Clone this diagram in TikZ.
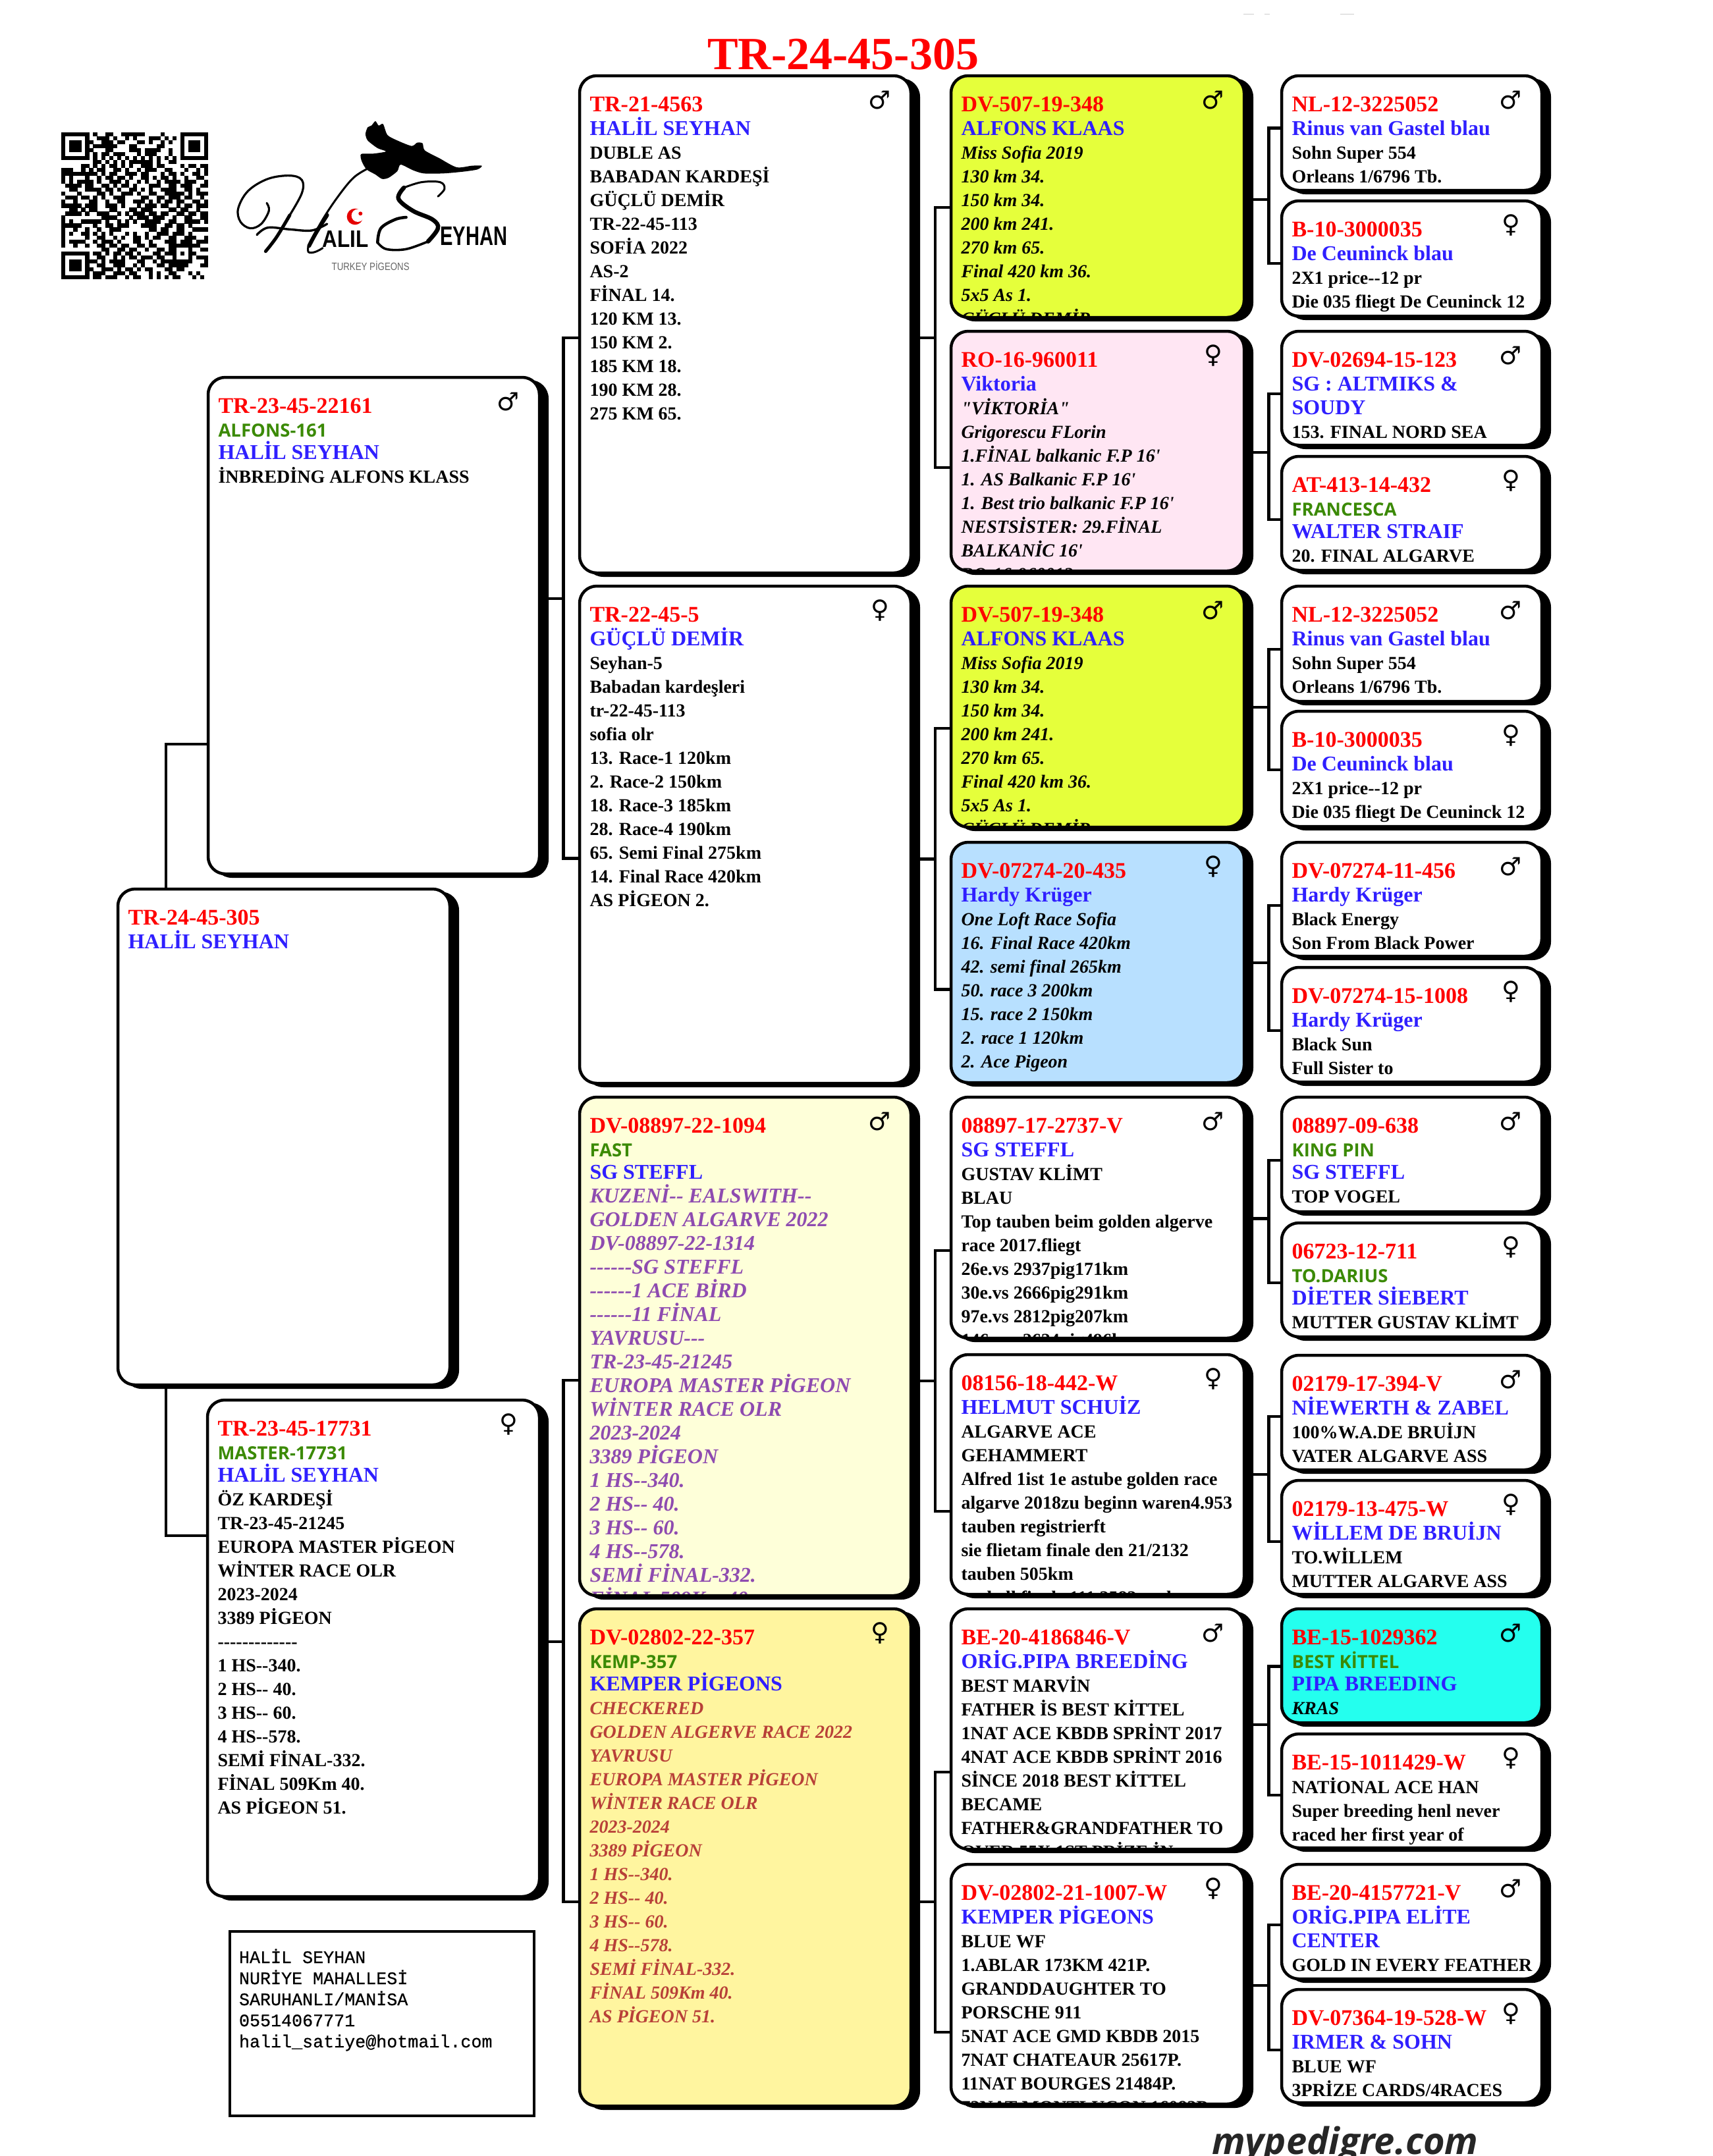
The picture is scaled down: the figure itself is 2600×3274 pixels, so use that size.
\documentclass[tikz,border=0pt]{standalone}
\usepackage{fontspec}
\usepackage{graphicx}
\newfontfamily\ser{Liberation Serif}
\newfontfamily\mon{Liberation Mono}[FakeBold=0.6]
\newfontfamily\djv{DejaVu Sans}
\newfontfamily\opn{Open Sans}
\newfontfamily\lsn{Liberation Sans}
\definecolor{tred}{HTML}{FF0000}
\definecolor{tblue}{HTML}{2F1FFF}
\definecolor{tgreen}{HTML}{3B8A05}
\definecolor{tpur}{HTML}{8E4BB0}
\definecolor{tbrn}{HTML}{B84038}
\definecolor{fyel}{HTML}{E5FF3B}
\definecolor{fpink}{HTML}{FFE6F3}
\definecolor{fblue}{HTML}{B8E0FF}
\definecolor{fcream}{HTML}{FEFFD9}
\definecolor{fgold}{HTML}{FFF59F}
\definecolor{fcyan}{HTML}{24FFEE}
\newcommand\Ln[2]{\hbox{\vrule height#1pt width0pt\smash{#2}}}
\newcommand\LT[1]{\Ln{36}{\color{tred}\ser\bfseries\fontsize{34pt}{36pt}\selectfont #1}}
\newcommand\LG[1]{\Ln{36}{\color{tgreen}\opn\bfseries\fontsize{27.5pt}{36pt}\selectfont #1}}
\newcommand\LB[1]{\Ln{36}{\color{tblue}\ser\bfseries\fontsize{32pt}{36pt}\selectfont #1}}
\newcommand\LBg[1]{\Ln{34}{\color{tblue}\ser\bfseries\fontsize{32pt}{36pt}\selectfont #1}}
\newcommand\LN[1]{\Ln{36}{\color{black}\ser\bfseries\fontsize{28pt}{36pt}\selectfont #1}}
\newcommand\LI[1]{\Ln{36}{\color{black}\ser\bfseries\itshape\fontsize{28pt}{36pt}\selectfont #1}}
\newcommand\LP[1]{\Ln{36}{\color{tpur}\ser\bfseries\itshape\fontsize{32pt}{36pt}\selectfont #1}}
\newcommand\LR[1]{\Ln{36}{\color{tbrn}\ser\bfseries\itshape\fontsize{28pt}{36pt}\selectfont #1}}
\newcommand\Ma{\char"2642\relax}
\newcommand\Fe{\char"2640\relax}
\tikzset{
  boxd/.style={draw=black,line width=4.5pt,rounded corners=26pt,inner sep=0pt,outer sep=0pt},
  txt/.style={anchor=base west,inner sep=0pt,outer sep=0pt},
  symb/.style={inner sep=0pt,font=\djv\fontsize{38pt}{38pt}\selectfont},
  conn/.style={draw=black,line width=4.5pt},
  logotext/.style={inner sep=0pt,font=\lsn},
}
\newcommand\pbox[8]{%
  \fill[black,rounded corners=28pt] ({#2+8},{#3+4}) rectangle ({#4+14},{#5+6});
  \fill[#6,rounded corners=26pt] (#2,#3) rectangle (#4,#5);
  \begin{scope}
    \clip[rounded corners=26pt] (#2,#3) rectangle (#4,#5);
    \node[txt] (#1t) at ({#2+15.5},{#3+54.5}) {\vtop{\offinterlineskip #8}};
  \end{scope}
  \node[boxd,minimum width={(#4-#2)*1pt},minimum height={(#5-#3)*1pt}] (#1) at ({(#2+#4)/2},{(#3+#5)/2}) {};
  \node[symb] (#1s) at ({#4-47},{#3+37}) {#7};
}
\newcommand\brk[7]{%
  \coordinate (#1ja) at (#4,#5);
  \coordinate (#1jb) at (#4,#6);
  \coordinate (#1jc) at (#4,#7);
  \draw[conn] (#2.west |- #1ja) -- (#1ja) -- (#1jb) -- (#3.west |- #1jb);
  \draw[conn] (#1.east |- #1jc) -- (#1jc);
}
\newcount\qrc \newcount\qrr
\def\qrscan#1{\ifx#1.\else\if1#1\fill ({93.3+\the\qrc*6.02},{201+\the\qrr*6.02}) rectangle ++(6.15,6.15);\fi\advance\qrc by 1 \expandafter\qrscan\fi}
\def\qrrow#1{\qrc=0 \qrscan#1.\advance\qrr by 1 }
\begin{document}
\begin{tikzpicture}[x=1pt,y=-1pt]
\useasboundingbox (0,0) rectangle (2600,3274);
\fill[white] (0,0) rectangle (2600,3274);
% faint marks
\draw[gray!40,line width=1pt] (1888,21) -- (1904,21) (1920,21) -- (1928,21) (2035,21) -- (2056,21);
% title
\node[txt] (title) at (1074,105) {\ser\bfseries\fontsize{70pt}{70pt}\selectfont\color{tred}TR-24-45-305};
% QR
\qrrow{1111111010011001111110000100001111111}
\qrrow{1000001001110100101000111010101000001}
\qrrow{1011101100111011000110100101001011101}
\qrrow{1011101011111100011000001100001011101}
\qrrow{1011101100011000011101111001001011101}
\qrrow{1000001010110111000101110001001000001}
\qrrow{1111111010101010101010101010101111111}
\qrrow{0000000011010101011111101001100000000}
\qrrow{0000011010101101010011101100001011011}
\qrrow{1110010101100110100101110011000100101}
\qrrow{1111111110101100111011000101101001101}
\qrrow{1010001001011011010011010110100100110}
\qrrow{1010111101001110100101001011110111001}
\qrrow{0111101100110101101000111001101110011}
\qrrow{0011001111011010011010100111100110100}
\qrrow{1000100001101001110100110011111010111}
\qrrow{0111011010100111000011001101110110010}
\qrrow{1001000110010011001110101011011001101}
\qrrow{1111101110011101000101110110010110111}
\qrrow{0011010110001100011011100001101100100}
\qrrow{0111101001110010101110110110011011011}
\qrrow{1000000000111100010111011100100110011}
\qrrow{1010011111010010101001111001100111101}
\qrrow{1111100010011011100011110011011010000}
\qrrow{1001001001001110000000110110011001111}
\qrrow{1010011010101000101001001110111010000}
\qrrow{1000001001100101001101011001100111001}
\qrrow{1011110010111010001100100011101110111}
\qrrow{1001001001101101100110110001111111100}
\qrrow{0000000000110011011001001101100010011}
\qrrow{1111111011010110110100011011101011000}
\qrrow{1000001001100101011011101100100010111}
\qrrow{1011101110101111000110010111111110001}
\qrrow{1011101001100111001010001101111100011}
\qrrow{1011101100111010110101100011011000000}
\qrrow{1000001011100111011000101001100010100}
\qrrow{1111111011011100101100101010110001010}
% logo
\begin{scope}[shift={(340,170)},x=0.3333pt,y=-0.3333pt]
  \fill[black] plot[smooth cycle,tension=.45] coordinates {(650,262) (628,225) (625,192) (680,190) (738,180) (700,165) (655,130) (645,100) (655,70) (672,62) (690,42) (705,62) (725,55) (745,105) (790,130) (855,155) (880,140) (905,143) (915,175) (980,210) (1060,252) (1130,245) (1175,245) (1155,262) (1090,272) (1000,280) (910,280) (860,265) (805,240) (790,270) (750,300) (720,305) (690,285)};
  \draw[line width=3pt,line cap=round] plot[smooth,tension=.6] coordinates {(655,258) (590,300) (520,385) (450,490) (400,585)};
  \draw[line width=6pt,line cap=round] plot[smooth,tension=.6] coordinates {(470,470) (420,550) (388,610)};
  \draw[line width=3pt,line cap=round] plot[smooth,tension=.7] coordinates {(385,610) (385,638) (415,638) (450,620)};
  \draw[line width=3.2pt,line cap=round] plot[smooth,tension=.6] coordinates {(195,415) (205,450) (170,510) (120,530) (75,500) (65,440) (110,360) (200,305) (300,290) (355,310) (355,370) (300,470)};
  \draw[line width=5pt,line cap=round] plot[smooth,tension=.6] coordinates {(300,470) (240,570) (190,635)};
  \draw[line width=3.4pt,line cap=round] plot[smooth,tension=.6] coordinates {(150,560) (200,527) (300,535) (400,540) (470,510)};
  \draw[line width=3pt,line cap=round] plot[smooth,tension=.6] coordinates {(975,385) (1005,350) (985,320) (900,320) (820,345)};
  \draw[line width=6.5pt,line cap=round] plot[smooth,tension=.6] coordinates {(820,345) (795,395) (860,450) (950,490) (975,530) (930,590)};
  \draw[line width=3.6pt,line cap=round] plot[smooth,tension=.6] coordinates {(930,590) (830,625) (740,625) (700,595)};
  \draw[line width=4.5pt,line cap=round] plot[smooth,tension=.6] coordinates {(700,595) (715,530) (780,490) (830,480)};
  \fill[red!90!black] (597,477) circle (37);
  \fill[white] (610,472) circle (29);
  \fill[red!90!black] (622,463) circle (9);
  \node[logotext] (logoa) at (555,578) {\resizebox{70pt}{25pt}{\bfseries ALIL}};
  \node[logotext] (logob) at (1138,567) {\resizebox{102pt}{28pt}{\bfseries EYHAN}};
  \node[logotext,text=black!60] (logoc) at (668,701) {\resizebox{118pt}{14pt}{TURKEY PİGEONS}};
\end{scope}
% third column (rightmost)
\pbox{a1mm}{1946}{115}{2341}{289}{white}{\Ma}{\LT{NL-12-3225052}\LB{Rinus van Gastel blau}\LN{Sohn Super 554}\LN{Orleans 1/6796 Tb.}}
\pbox{a1mf}{1946}{305}{2341}{480}{white}{\Fe}{\LT{B-10-3000035}\LB{De Ceuninck blau}\LN{2X1 price--12 pr}\LN{Die 035 fliegt De Ceuninck 12}}
\pbox{a1fm}{1946}{503}{2341}{676}{white}{\Ma}{\LT{DV-02694-15-123}\LB{SG : ALTMIKS \&}\LB{SOUDY}\LN{153. FINAL NORD SEA}}
\pbox{a1ff}{1946}{693}{2341}{866}{white}{\Fe}{\LT{AT-413-14-432}\LG{FRANCESCA}\LBg{WALTER STRAIF}\LN{20. FINAL ALGARVE}}
\pbox{a2mm}{1946}{890}{2341}{1065}{white}{\Ma}{\LT{NL-12-3225052}\LB{Rinus van Gastel blau}\LN{Sohn Super 554}\LN{Orleans 1/6796 Tb.}}
\pbox{a2mf}{1946}{1080}{2341}{1255}{white}{\Fe}{\LT{B-10-3000035}\LB{De Ceuninck blau}\LN{2X1 price--12 pr}\LN{Die 035 fliegt De Ceuninck 12}}
\pbox{a2fm}{1946}{1279}{2341}{1452}{white}{\Ma}{\LT{DV-07274-11-456}\LB{Hardy Krüger}\LN{Black Energy}\LN{Son From Black Power}}
\pbox{a2ff}{1946}{1469}{2341}{1643}{white}{\Fe}{\LT{DV-07274-15-1008}\LB{Hardy Krüger}\LN{Black Sun}\LN{Full Sister to}}
\pbox{b1mm}{1946}{1666}{2341}{1840}{white}{\Ma}{\LT{08897-09-638}\LG{KING PIN}\LBg{SG STEFFL}\LN{TOP VOGEL}}
\pbox{b1mf}{1946}{1857}{2341}{2030}{white}{\Fe}{\LT{06723-12-711}\LG{TO.DARIUS}\LBg{DİETER SİEBERT}\LN{MUTTER GUSTAV KLİMT}}
\pbox{b1fm}{1946}{2058}{2341}{2232}{white}{\Ma}{\LT{02179-17-394-V}\LB{NİEWERTH \& ZABEL}\LN{100\%W.A.DE BRUİJN}\LN{VATER ALGARVE ASS}}
\pbox{b1ff}{1946}{2248}{2341}{2421}{white}{\Fe}{\LT{02179-13-475-W}\LB{WİLLEM DE BRUİJN}\LN{TO.WİLLEM}\LN{MUTTER ALGARVE ASS}}
\pbox{b2mm}{1946}{2443}{2341}{2616}{fcyan}{\Ma}{\LT{BE-15-1029362}\LG{BEST KİTTEL}\LBg{PIPA BREEDING}\LI{KRAS}}
\pbox{b2mf}{1946}{2633}{2341}{2806}{white}{\Fe}{\LT{BE-15-1011429-W}\LN{NATİONAL ACE HAN}\LN{Super breeding henl never}\LN{raced her first year of}}
\pbox{b2fm}{1946}{2831}{2341}{3005}{white}{\Ma}{\LT{BE-20-4157721-V}\LB{ORİG.PIPA ELİTE}\LB{CENTER}\LN{GOLD IN EVERY FEATHER}}
\pbox{b2ff}{1946}{3021}{2341}{3193}{white}{\Fe}{\LT{DV-07364-19-528-W}\LB{IRMER \& SOHN}\LN{BLUE WF}\LN{3PRİZE CARDS/4RACES}}
% second right column
\pbox{a1m}{1444}{115}{1889}{482}{fyel}{\Ma}{\LT{DV-507-19-348}\LB{ALFONS KLAAS}\LI{Miss Sofia 2019}\LI{130 km 34.}\LI{150 km 34.}\LI{200 km 241.}\LI{270 km 65.}\LI{Final 420 km 36.}\LI{5x5 As 1.}\LI{GÜÇLÜ DEMİR}}
\pbox{a1f}{1444}{503}{1889}{867}{fpink}{\Fe}{\LT{RO-16-960011}\LB{Viktoria}\LI{"VİKTORİA"}\LI{Grigorescu FLorin}\LI{1.FİNAL balkanic F.P 16'}\LI{1. AS Balkanic F.P 16'}\LI{1. Best trio balkanic F.P 16'}\LI{NESTSİSTER: 29.FİNAL}\LI{BALKANİC 16'}\LI{RO-16-960012}}
\pbox{a2m}{1444}{890}{1889}{1256}{fyel}{\Ma}{\LT{DV-507-19-348}\LB{ALFONS KLAAS}\LI{Miss Sofia 2019}\LI{130 km 34.}\LI{150 km 34.}\LI{200 km 241.}\LI{270 km 65.}\LI{Final 420 km 36.}\LI{5x5 As 1.}\LI{GÜÇLÜ DEMİR}}
\pbox{a2f}{1444}{1279}{1889}{1644}{fblue}{\Fe}{\LT{DV-07274-20-435}\LB{Hardy Krüger}\LI{One Loft Race Sofia}\LI{16. Final Race 420km}\LI{42. semi final 265km}\LI{50. race 3 200km}\LI{15. race 2 150km}\LI{2. race 1 120km}\LI{2. Ace Pigeon}}
\pbox{b1m}{1444}{1666}{1889}{2032}{white}{\Ma}{\LT{08897-17-2737-V}\LB{SG STEFFL}\LN{GUSTAV KLİMT}\LN{BLAU}\LN{Top tauben beim golden algerve}\LN{race 2017.fliegt}\LN{26e.vs 2937pig171km}\LN{30e.vs 2666pig291km}\LN{97e.vs 2812pig207km}\LN{146e.vs 2624pig496km}}
\pbox{b1f}{1444}{2057}{1889}{2421}{white}{\Fe}{\LT{08156-18-442-W}\LB{HELMUT SCHUİZ}\LN{ALGARVE ACE}\LN{GEHAMMERT}\LN{Alfred 1ist 1e astube golden race}\LN{algarve 2018zu beginn waren4.953}\LN{tauben registrierft}\LN{sie flietam finale den 21/2132}\LN{tauben 505km}\LN{und all finale 111.2582 taub}}
\pbox{b2m}{1444}{2443}{1889}{2808}{white}{\Ma}{\LT{BE-20-4186846-V}\LB{ORİG.PIPA BREEDİNG}\LN{BEST MARVİN}\LN{FATHER İS BEST KİTTEL}\LN{1NAT ACE KBDB SPRİNT 2017}\LN{4NAT ACE KBDB SPRİNT 2016}\LN{SİNCE 2018 BEST KİTTEL}\LN{BECAME}\LN{FATHER\&GRANDFATHER TO}\LN{OVER 55X 1ST PRİZE İN}}
\pbox{b2f}{1444}{2831}{1889}{3195}{white}{\Fe}{\LT{DV-02802-21-1007-W}\LB{KEMPER PİGEONS}\LN{BLUE WF}\LN{1.ABLAR 173KM 421P.}\LN{GRANDDAUGHTER TO}\LN{PORSCHE 911}\LN{5NAT ACE GMD KBDB 2015}\LN{7NAT CHATEAUR 25617P.}\LN{11NAT BOURGES 21484P.}\LN{72NAT MONTLUCON 16082P.}}
% parents column
\pbox{a1}{880}{115}{1383}{870}{white}{\Ma}{\LT{TR-21-4563}\LB{HALİL SEYHAN}\LN{DUBLE AS}\LN{BABADAN KARDEŞİ}\LN{GÜÇLÜ DEMİR}\LN{TR-22-45-113}\LN{SOFİA 2022}\LN{AS-2}\LN{FİNAL 14.}\LN{120 KM 13.}\LN{150 KM 2.}\LN{185 KM 18.}\LN{190 KM 28.}\LN{275 KM 65.}}
\pbox{a2}{880}{890}{1383}{1645}{white}{\Fe}{\LT{TR-22-45-5}\LB{GÜÇLÜ DEMİR}\LN{Seyhan-5}\LN{Babadan kardeşleri}\LN{tr-22-45-113}\LN{sofia olr}\LN{13. Race-1 120km}\LN{2. Race-2 150km}\LN{18. Race-3 185km}\LN{28. Race-4 190km}\LN{65. Semi Final 275km}\LN{14. Final Race 420km}\LN{AS PİGEON 2.}}
\pbox{b1}{880}{1666}{1383}{2423}{fcream}{\Ma}{\LT{DV-08897-22-1094}\LG{FAST}\LBg{SG STEFFL}\LP{KUZENİ-- EALSWITH--}\LP{GOLDEN ALGARVE 2022}\LP{DV-08897-22-1314}\LP{------SG STEFFL}\LP{------1 ACE BİRD}\LP{------11 FİNAL}\LP{YAVRUSU---}\LP{TR-23-45-21245}\LP{EUROPA MASTER PİGEON}\LP{WİNTER RACE OLR}\LP{2023-2024}\LP{3389 PİGEON}\LP{1 HS--340.}\LP{2 HS-- 40.}\LP{3 HS-- 60.}\LP{4 HS--578.}\LP{SEMİ FİNAL-332.}\LP{FİNAL 509Km 40.}}
\pbox{b2}{880}{2443}{1383}{3198}{fgold}{\Fe}{\LT{DV-02802-22-357}\LG{KEMP-357}\LBg{KEMPER PİGEONS}\LR{CHECKERED}\LR{GOLDEN ALGERVE RACE 2022}\LR{YAVRUSU}\LR{EUROPA MASTER PİGEON}\LR{WİNTER RACE OLR}\LR{2023-2024}\LR{3389 PİGEON}\LR{1 HS--340.}\LR{2 HS-- 40.}\LR{3 HS-- 60.}\LR{4 HS--578.}\LR{SEMİ FİNAL-332.}\LR{FİNAL 509Km 40.}\LR{AS PİGEON 51.}}
% first column
\pbox{a}{316}{573}{819}{1327}{white}{\Ma}{\LT{TR-23-45-22161}\LG{ALFONS-161}\LBg{HALİL SEYHAN}\LN{İNBREDİNG ALFONS KLASS}}
\pbox{b}{315}{2126}{819}{2880}{white}{\Fe}{\LT{TR-23-45-17731}\LG{MASTER-17731}\LBg{HALİL SEYHAN}\LN{ÖZ KARDEŞİ}\LN{TR-23-45-21245}\LN{EUROPA MASTER PİGEON}\LN{WİNTER RACE OLR}\LN{2023-2024}\LN{3389 PİGEON}\LN{-------------}\LN{1 HS--340.}\LN{2 HS-- 40.}\LN{3 HS-- 60.}\LN{4 HS--578.}\LN{SEMİ FİNAL-332.}\LN{FİNAL 509Km 40.}\LN{AS PİGEON 51.}}
% root
\pbox{root}{179}{1350}{683}{2103}{white}{}{\LT{TR-24-45-305}\LB{HALİL SEYHAN}}
% connectors
\coordinate (rja) at (252,1130);
\coordinate (rjb) at (252,2332);
\draw[conn] (a.west |- rja) -- (rja) -- (rja |- root.north);
\draw[conn] (b.west |- rjb) -- (rjb) -- (rjb |- root.south);
\brk{a}{a1}{a2}{855.5}{513}{1303.5}{909}
\brk{b}{b1}{b2}{855.5}{2096}{2888}{2493}
\brk{a1}{a1m}{a1f}{1420}{315}{710}{513}
\brk{a2}{a2m}{a2f}{1420}{1106}{1502.5}{1304.5}
\brk{b1}{b1m}{b1f}{1420}{1899}{2295}{2097}
\brk{b2}{b2m}{b2f}{1420}{2691}{3086}{2888}
\brk{a1m}{a1mm}{a1mf}{1926.5}{194.5}{400}{303}
\brk{a1f}{a1fm}{a1ff}{1926.5}{598}{789}{687}
\brk{a2m}{a2mm}{a2mf}{1926.5}{986}{1169}{1074}
\brk{a2f}{a2fm}{a2ff}{1926.5}{1375}{1565}{1462}
\brk{b1m}{b1mm}{b1mf}{1926.5}{1762}{1948}{1850.5}
\brk{b1f}{b1fm}{b1ff}{1926.5}{2151}{2341}{2239}
\brk{b2m}{b2mm}{b2mf}{1926.5}{2530.5}{2726}{2619}
\brk{b2f}{b2fm}{b2ff}{1926.5}{2923}{3113}{3015}
% address
\node[draw=black,line width=4pt,minimum width=462pt,minimum height=280pt,inner sep=0pt,anchor=north west] (addr) at (347,2931) {};
\node[txt] (addrt) at (363,2981) {\vtop{\offinterlineskip
  \Ln{32}{\mon\fontsize{26.7pt}{32pt}\selectfont HALİL SEYHAN}
  \Ln{32}{\mon\fontsize{26.7pt}{32pt}\selectfont NURİYE MAHALLESİ}
  \Ln{32}{\mon\fontsize{26.7pt}{32pt}\selectfont SARUHANLI/MANİSA}
  \Ln{32}{\mon\fontsize{26.7pt}{32pt}\selectfont 05514067771}
  \Ln{32}{\mon\fontsize{26.7pt}{32pt}\selectfont halil\_satiye@hotmail.com}}};
% footer
\node[txt] (foot) at (1840,3271) {\opn\bfseries\itshape\fontsize{56pt}{56pt}\selectfont\color{black!85}mypedigre.com};
\end{tikzpicture}
\end{document}
